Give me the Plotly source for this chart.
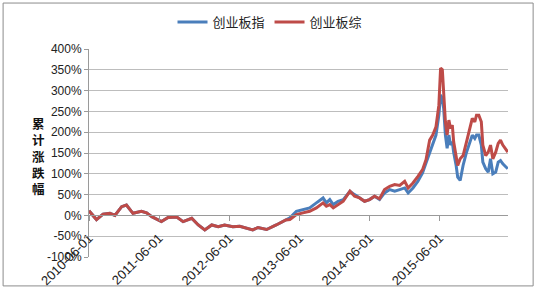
import plotly.graph_objects as go

dates = [
    "2010-06-01", "2010-07-10", "2010-08-13", "2010-09-18", "2010-10-14", "2010-11-18",
    "2010-12-13", "2011-01-16", "2011-03-01", "2011-03-28", "2011-04-24", "2011-06-13",
    "2011-07-18", "2011-09-01", "2011-10-04", "2011-11-18", "2011-12-22", "2012-01-25",
    "2012-03-01", "2012-04-04", "2012-05-07", "2012-06-19", "2012-07-25", "2012-09-01",
    "2012-10-01", "2012-10-28", "2012-12-12", "2013-01-31", "2013-03-22", "2013-04-12",
    "2013-05-16", "2013-06-19", "2013-07-24", "2013-08-28", "2013-10-02", "2013-10-19",
    "2013-11-06", "2013-11-24", "2013-12-19", "2014-01-15", "2014-02-19", "2014-03-15",
    "2014-04-10", "2014-05-06", "2014-06-01", "2014-06-27", "2014-07-23", "2014-08-18",
    "2014-09-14", "2014-10-10", "2014-11-05", "2014-12-01", "2014-12-19", "2015-01-13",
    "2015-02-08", "2015-03-04", "2015-03-22", "2015-04-10", "2015-04-26", "2015-05-13",
    "2015-05-28", "2015-06-06", "2015-06-15", "2015-06-22", "2015-07-01", "2015-07-10",
    "2015-07-19", "2015-07-28", "2015-08-06", "2015-08-13", "2015-08-26", "2015-09-03",
    "2015-09-16", "2015-10-01", "2015-10-19", "2015-11-04", "2015-11-18", "2015-12-01",
    "2015-12-10", "2015-12-22", "2016-01-04", "2016-01-12", "2016-01-27", "2016-02-09",
    "2016-02-21", "2016-03-04", "2016-03-19", "2016-04-01", "2016-04-13", "2016-04-25",
    "2016-05-09", "2016-05-21",
]

chinext_index = [
    11, -10, 3, 5, 0, 21,
    25, 5, 10, 6, -3, -15,
    -5, -4, -15, -7, -23, -35,
    -23, -27, -23, -27, -26, -31,
    -35, -29, -34, -23, -11, -6,
    10, 14, 18, 30, 42, 30,
    38, 26, 34, 38, 58, 50,
    42, 34, 38, 46, 38, 54,
    62, 58, 62, 66, 54, 66,
    82, 102, 126, 152, 169, 193,
    241, 290, 281, 257, 193, 161,
    193, 169, 177, 152, 120, 92,
    84, 120, 152, 177, 193, 185,
    193, 193, 169, 128, 112, 104,
    136, 100, 104, 128, 132, 124,
    116, 112,
]

chinext_composite = [
    11, -10, 3, 5, 0, 21,
    25, 5, 10, 6, -3, -15,
    -5, -4, -15, -7, -23, -35,
    -23, -27, -23, -27, -26, -31,
    -35, -29, -34, -23, -11, -10,
    2, 6, 10, 18, 30, 22,
    26, 18, 26, 34, 58, 46,
    42, 34, 38, 46, 40, 62,
    70, 74, 72, 82, 66, 78,
    94, 110, 134, 181, 193, 213,
    265, 354, 350, 298, 225, 193,
    229, 209, 217, 177, 144, 120,
    136, 144, 177, 209, 233, 225,
    241, 241, 225, 169, 144, 152,
    169, 136, 152, 173, 181, 169,
    161, 152,
]

tick_dates = ["2010-06-01", "2011-06-01", "2012-06-01", "2013-06-01", "2014-06-01", "2015-06-01"]
y_ticks = [-100, -50, 0, 50, 100, 150, 200, 250, 300, 350, 400]
y_tick_text = [f"{v}%" for v in y_ticks]
y_title_chars = ["累", "计", "涨", "跌", "幅"]

font_lat = "Liberation Sans, Arial, sans-serif"
font_cjk = "Noto Sans CJK SC, sans-serif"

fig = go.Figure()
fig.add_trace(go.Scatter(x=dates, y=chinext_index, mode="lines", name="创业板指",
                         line=dict(color="#4a7ebb", width=3)))
fig.add_trace(go.Scatter(x=dates, y=chinext_composite, mode="lines", name="创业板综",
                         line=dict(color="#be4b48", width=3)))

fig.update_layout(
    width=536, height=289,
    margin=dict(l=89, r=28, t=49, b=32, autoexpand=False),
    paper_bgcolor="white", plot_bgcolor="white",
    showlegend=True,
    legend=dict(orientation="h", x=0.432, xanchor="center", y=1.13, yanchor="middle",
                font=dict(family=font_cjk, size=13, color="#222"),
                itemwidth=30, tracegroupgap=0, bgcolor="rgba(0,0,0,0)"),
    xaxis=dict(type="date", range=["2010-06-01", "2016-05-22"], automargin=False,
               tickvals=tick_dates, ticktext=tick_dates, tickangle=-45,
               anchor="free", position=0.2, ticklabelstandoff=4,
               showline=True, linecolor="#9a9a9a", linewidth=1,
               ticks="outside", ticklen=5, tickcolor="#9a9a9a",
               showgrid=False, zeroline=False,
               tickfont=dict(family=font_lat, size=13, color="#222")),
    yaxis=dict(range=[-100, 400], tickvals=y_ticks, ticktext=y_tick_text, automargin=False,
               showline=True, linecolor="#9a9a9a", linewidth=1,
               ticks="outside", ticklen=4, tickcolor="#9a9a9a",
               showgrid=True, gridcolor="#bdbdbd", gridwidth=1, zeroline=False,
               tickfont=dict(family=font_lat, size=12, color="#222")),
)

fig.add_annotation(text="<br>".join(f"<b>{c}</b>" for c in y_title_chars),
                   xref="paper", yref="paper", x=-0.141, y=(257 - 155.5) / 208,
                   yanchor="middle", showarrow=False,
                   font=dict(family=font_cjk, size=12.5, color="#111"))

fig.add_shape(type="rect", xref="paper", yref="paper",
              x0=-0.205, x1=1.06, y0=-0.139, y1=1.221,
              line=dict(color="#8c8c8c", width=1), fillcolor="rgba(0,0,0,0)", layer="below")

fig.write_html("out.html")
